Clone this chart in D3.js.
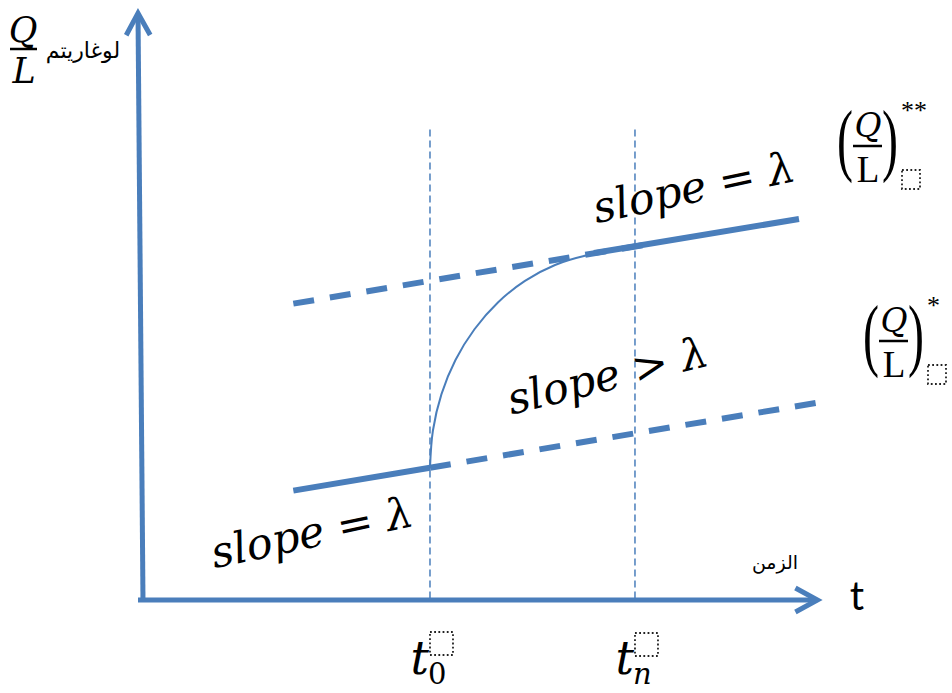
<!DOCTYPE html>
<html>
<head>
<meta charset="utf-8">
<script src="https://cdn.jsdelivr.net/npm/d3@7"></script>
<style>
  html, body { margin: 0; padding: 0; background: #fff; }
  svg { display: block; }
  text { white-space: pre; }
</style>
</head>
<body>
<script>
// ---- data (time t on x, log(Q/L) on y) ----
const markTimes = [4.2, 7.2];           // t0, tn
const markLabels = ["0", "n"];          // subscripts of t
const guideTop = 8.0;                   // height of the dashed guides

// lower path: slope = lambda before t0, continued (dashed) after
const lowerSolidT = [2.2, 4.2];
const lowerSolidV = [1.86, 2.25];
const lowerDashT  = [4.2, 9.9];
const lowerDashV  = [2.25, 3.36];

// upper path: dashed extension, then slope = lambda again after the transition
const upperDashT  = [2.2, 7.5];
const upperDashV  = [5.04, 6.07];
const upperSolidT = [6.6, 9.6];
const upperSolidV = [5.90, 6.48];

// transition curve from the lower path to the upper path
const curveT = [4.2, 4.243, 4.368, 4.573, 4.851, 5.194, 5.59, 6.03, 6.498, 6.641, 7.0];
const curveV = [2.245, 2.883, 3.502, 4.082, 4.605, 5.06, 5.427, 5.697, 5.862, 5.891, 5.96];

const slopeTexts = ["slope = λ", "slope > λ", "slope = λ"];
const yLabelArabic = "لوغاريتم";
const xLabelArabic = "الزمن";
const xLabelLatin = "t";
const levelStars = ["**", "*"];

// ---- scales ----
const W = 952, H = 693;
const x = d3.scaleLinear().domain([0, 10]).range([143, 826.3]);
const y = d3.scaleLinear().domain([0, 10]).range([600, 12]);

const blue = "#4a7ebb";
const mathFont = "'DejaVu Serif', serif";

const svg = d3.select("body").append("svg")
  .attr("width", W).attr("height", H);

const zip = (ts, vs) => ts.map((t, i) => [t, vs[i]]);
const line = d3.line().x(d => x(d[0])).y(d => y(d[1]));

// ---- dashed guides at t0 and tn ----
svg.selectAll("line.guide").data(markTimes).join("line")
  .attr("class", "guide")
  .attr("x1", d => x(d)).attr("x2", d => x(d))
  .attr("y1", y(guideTop)).attr("y2", y(0))
  .attr("stroke", blue).attr("stroke-width", 1.5)
  .attr("stroke-dasharray", "7,4");

// ---- transition curve ----
svg.append("path")
  .datum(zip(curveT, curveV))
  .attr("d", d3.line().x(d => x(d[0])).y(d => y(d[1])).curve(d3.curveCatmullRom.alpha(0.5)))
  .attr("fill", "none").attr("stroke", blue).attr("stroke-width", 2);

// ---- thick growth lines ----
const paths = [
  { pts: zip(lowerSolidT, lowerSolidV), dash: null },
  { pts: zip(lowerDashT, lowerDashV), dash: "21,16" },
  { pts: zip(upperDashT, upperDashV), dash: "21,16" },
  { pts: zip(upperSolidT, upperSolidV), dash: null }
];
svg.selectAll("path.growth").data(paths).join("path")
  .attr("class", "growth")
  .attr("d", d => line(d.pts))
  .attr("fill", "none").attr("stroke", blue).attr("stroke-width", 6)
  .attr("stroke-dasharray", d => d.dash);

// ---- axes with open arrowheads ----
function arrowHead(tipX, tipY, angle) {
  // angle: direction the arrow points, in radians
  const back = 22, spread = 12;
  const c = Math.cos(angle), s = Math.sin(angle);
  const p = (b, o) => [tipX - b * c - o * s, tipY - b * s + o * c];
  return [p(back, spread), [tipX, tipY], p(back, -spread)];
}
const axisG = svg.append("g")
  .attr("stroke", blue).attr("stroke-width", 5).attr("fill", "none");
// horizontal (time)
const xTip = [x(9.87), y(0)];
axisG.append("line")
  .attr("x1", x(0) - 5).attr("y1", y(0))
  .attr("x2", xTip[0] - 3).attr("y2", y(0));
axisG.append("polyline")
  .attr("points", arrowHead(xTip[0], xTip[1], 0).map(p => p.join(",")).join(" "))
  .attr("stroke-linejoin", "miter");
// vertical (log Q/L)
const yBase = [x(0), y(0) + 2];
const yTip = [x(0) - 5, y(9.98)];
const vAng = Math.atan2(yTip[1] - yBase[1], yTip[0] - yBase[0]);
axisG.append("line")
  .attr("x1", yBase[0]).attr("y1", yBase[1])
  .attr("x2", yTip[0] - 3 * Math.cos(vAng)).attr("y2", yTip[1] - 3 * Math.sin(vAng));
axisG.append("polyline")
  .attr("points", arrowHead(yTip[0], yTip[1], vAng).map(p => p.join(",")).join(" "))
  .attr("stroke-linejoin", "miter");

// ---- slope annotations ----
const slopePos = [
  { cx: 315, cy: 547, rot: -12 },
  { cx: 611, cy: 390, rot: -14 },
  { cx: 697, cy: 202, rot: -12 }
];
svg.selectAll("text.slope").data(slopeTexts).join("text")
  .attr("class", "slope")
  .attr("transform", (d, i) => `translate(${slopePos[i].cx},${slopePos[i].cy}) rotate(${slopePos[i].rot})`)
  .attr("text-anchor", "middle")
  .attr("font-family", mathFont).attr("font-style", "italic")
  .attr("font-size", 43).attr("fill", "#000")
  .text(d => d);

// ---- dotted placeholder box ----
function placeholder(g, x0, y0, w, h) {
  g.append("rect").attr("x", x0).attr("y", y0).attr("width", w).attr("height", h)
    .attr("fill", "none").attr("stroke", "#222").attr("stroke-width", 1.8)
    .attr("stroke-dasharray", "1.8,2.4");
}

// ---- y-axis label: Q/L + Arabic ----
const yl = svg.append("g");
yl.append("text").attr("x", 23).attr("y", 42).attr("text-anchor", "middle")
  .attr("font-family", mathFont).attr("font-style", "italic").attr("font-size", 35).text("Q");
yl.append("line").attr("x1", 10).attr("x2", 37).attr("y1", 49).attr("y2", 49)
  .attr("stroke", "#000").attr("stroke-width", 2.5);
yl.append("text").attr("x", 24).attr("y", 83).attr("text-anchor", "middle")
  .attr("font-family", mathFont).attr("font-style", "italic").attr("font-size", 35).text("L");
yl.append("text").attr("x", 83).attr("y", 58).attr("text-anchor", "middle")
  .attr("font-family", "'DejaVu Sans', sans-serif").attr("font-size", 22).text(yLabelArabic);

// ---- x-axis labels ----
svg.append("text").attr("x", 775).attr("y", 569).attr("text-anchor", "middle")
  .attr("font-family", "'DejaVu Sans', sans-serif").attr("font-size", 19).text(xLabelArabic);
svg.append("text").attr("x", 857).attr("y", 610).attr("text-anchor", "middle")
  .attr("font-family", "Lato, sans-serif").attr("font-size", 40).text(xLabelLatin);

// ---- t0 / tn labels under the guides ----
markTimes.forEach((t, i) => {
  const g = svg.append("g").attr("transform", `translate(${x(t)},0)`);
  g.append("text").attr("y", 674).attr("text-anchor", "end").attr("x", -1)
    .attr("font-family", mathFont).attr("font-style", "italic").attr("font-size", 46).text("t");
  g.append("text").attr("x", -2).attr("y", 684)
    .attr("font-family", mathFont).attr("font-style", i === 0 ? "normal" : "italic")
    .attr("font-size", 29).text(markLabels[i]);
  placeholder(g, 0, 632 + i, 23, 23);
});

// ---- level labels (Q/L)** and (Q/L)* ----
function levelLabel(ox, oy, stars) {
  const g = svg.append("g").attr("transform", `translate(${ox},${oy})`);
  g.append("text").attr("transform", "translate(845,166) scale(0.6,1)")
    .attr("text-anchor", "middle").attr("font-family", "'Liberation Serif', serif")
    .attr("font-size", 80).text("(");
  g.append("text").attr("x", 868).attr("y", 137).attr("text-anchor", "middle")
    .attr("font-family", mathFont).attr("font-style", "italic").attr("font-size", 33).text("Q");
  g.append("line").attr("x1", 853).attr("x2", 882).attr("y1", 146).attr("y2", 146)
    .attr("stroke", "#000").attr("stroke-width", 2.5);
  g.append("text").attr("x", 868).attr("y", 182).attr("text-anchor", "middle")
    .attr("font-family", "'Liberation Serif', serif").attr("font-size", 37).text("L");
  g.append("text").attr("transform", "translate(890,166) scale(0.6,1)")
    .attr("text-anchor", "middle").attr("font-family", "'Liberation Serif', serif")
    .attr("font-size", 80).text(")");
  g.append("text").attr("x", 901).attr("y", 119)
    .attr("font-family", "'Liberation Serif', serif").attr("font-size", 26).text(stars);
  placeholder(g, 902, 170, 18, 19);
}
levelLabel(0, 0, levelStars[0]);
levelLabel(26, 195, levelStars[1]);
</script>
</body>
</html>
